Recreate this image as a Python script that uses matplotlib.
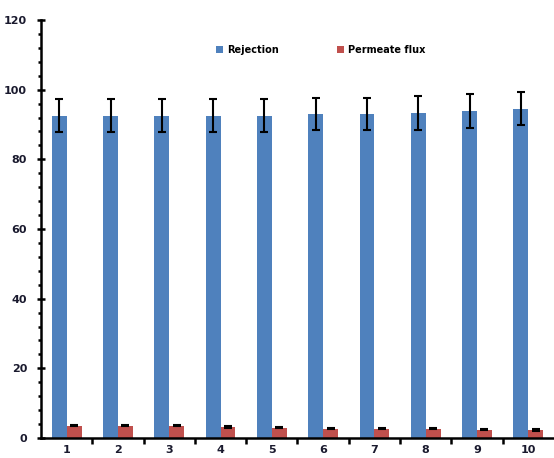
import numpy as np
import matplotlib.pyplot as plt
from matplotlib.ticker import MultipleLocator, FixedLocator

samples = ['1', '2', '3', '4', '5', '6', '7', '8', '9', '10']
rejection = [92.5, 92.5, 92.5, 92.5, 92.5, 93.0, 93.0, 93.3, 93.8, 94.5]
rejection_err = [4.7, 4.7, 4.7, 4.7, 4.7, 4.7, 4.7, 4.8, 4.9, 4.7]
flux = [3.5, 3.5, 3.5, 3.1, 3.0, 2.7, 2.7, 2.7, 2.3, 2.3]
flux_err = [0.2, 0.2, 0.2, 0.2, 0.2, 0.2, 0.2, 0.2, 0.15, 0.2]

fig = plt.figure(figsize=(5.54, 4.58), dpi=100)
ax = fig.add_axes([0.074, 0.0437, 0.926, 0.9126])

x = np.arange(len(samples))
w = 0.29
ekw = dict(ecolor='black', elinewidth=1.5, capsize=3, capthick=1.5)
ax.bar(x - w/2, rejection, w, yerr=rejection_err, color='#4F81BD',
       label='Rejection', error_kw=ekw)
ax.bar(x + w/2, flux, w, yerr=flux_err, color='#C0504D',
       label='Permeate flux', error_kw=ekw)

ax.set_xlim(-0.5, len(samples) - 0.5)
ax.set_ylim(0, 120)
ax.yaxis.set_major_locator(MultipleLocator(20))
ax.yaxis.set_minor_locator(MultipleLocator(4))
ax.set_xticks(x)
ax.set_xticklabels(samples)
ax.xaxis.set_minor_locator(FixedLocator(np.arange(0.5, len(samples) - 0.5, 1)))

for side in ['top', 'right']:
    ax.spines[side].set_visible(False)
for side in ['left', 'bottom']:
    ax.spines[side].set_linewidth(1.8)

ax.tick_params(axis='y', which='major', direction='inout', length=6, width=1.8,
               labelsize=8, pad=7, labelcolor='#1a1a2e')
ax.tick_params(axis='y', which='minor', direction='out', length=2.5, width=1.8)
ax.tick_params(axis='x', which='major', length=0, labelsize=8, pad=5,
               labelcolor='#1a1a2e')
ax.tick_params(axis='x', which='minor', direction='out', length=4, width=1.8)
for lbl in ax.get_xticklabels() + ax.get_yticklabels():
    lbl.set_fontweight('bold')

ax.legend(loc='upper left', bbox_to_anchor=(0.325, 0.962), ncol=2, frameon=False,
          prop={'size': 7, 'weight': 'bold'}, handlelength=0.7, handleheight=0.7,
          handletextpad=0.4, columnspacing=6)

fig.savefig('out.png', dpi=100)
